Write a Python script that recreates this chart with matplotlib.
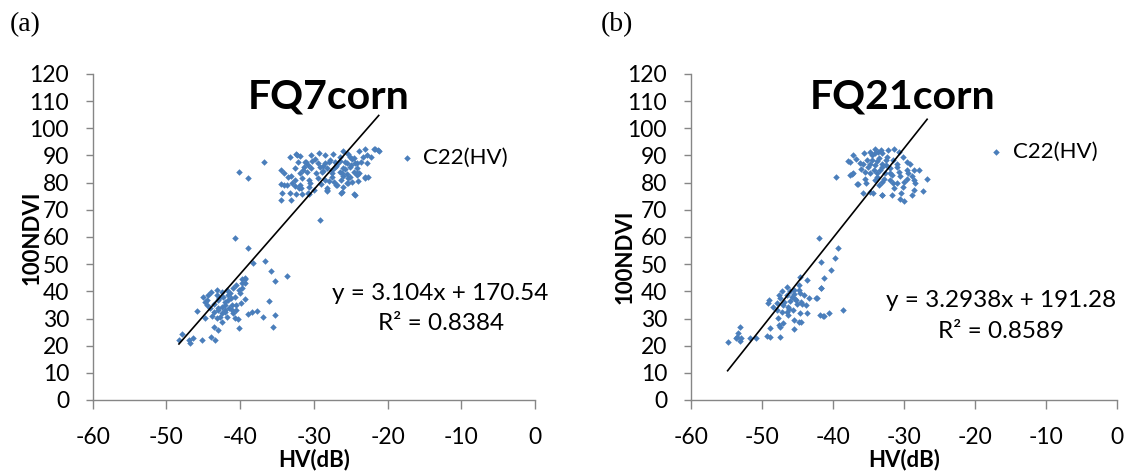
import matplotlib
matplotlib.use("Agg")
import matplotlib.pyplot as plt
import numpy as np

plt.rcParams['font.family'] = ['Lato', 'DejaVu Sans']
plt.rcParams['axes.unicode_minus'] = False

# ---------------- data ----------------
# Panel (a) FQ7corn : HV (dB) vs 100NDVI
a_hv = [
    # upper cluster
    -30.4, -29.3, -28.5, -27.4, -26.0, -25.3, -23.9, -23.1, -21.9, -21.2, -33.2, -32.4, -31.9, -22.2, -23.4, -26.5, -24.8,
    -32.2, -31.2, -30.2, -29.4, -28.0, -26.8, -25.8, -24.4, -23.6, -24.1, -25.1, -26.1, -27.1, -28.2, -29.2, -30.4, -31.4,
    -30.9, -29.7, -28.7, -27.5, -26.5, -25.5, -24.6, -24.1, -34.4, -34.1,
    -33.1, -32.6, -31.6, -30.7, -29.4, -28.5, -27.3, -26.3, -25.3, -24.8, -23.1, -23.9, -34.5, -33.6, -32.6, -31.8, -30.7,
    -30.0, -28.2, -27.0, -26.1, -34.3, -32.4, -31.6, -30.7, -28.2, -26.3, -24.5, -34.4, -33.1, -29.1,
    -32.3, -25.1, -22.8, -31.1, -28.5, -27.1, -25.5, -24.2, -31.9, -28.9, -27.6, -26.2, -25.1, -34.1, -33.0, -31.9, -30.5,
    -33.2, -30.8, -28.2, -26.2, -25.3, -24.2, -22.8, -22.6, -21.3, -21.7, -23.0, -24.4,
    -27.8, -27.0, -26.5, -25.8, -25.0, -24.5, -26.0, -27.5, -28.8, -29.8, -30.8, -31.5, -32.5, -33.5, -32.0, -29.0, -28.0,
    -26.8, -25.5, -24.0,
    # isolated points
    -36.7, -40.1, -39.0,
    # lower cluster and transition
    -40.7, -39.0, -38.2, -36.6, -35.8, -35.3, -39.4, -36.1, -35.3, -35.6, -36.9, -37.7, -38.4, -39.0, -40.2, -40.3, -40.7,
    -39.4, -39.7, -39.4, -41.1, -40.9, -41.8, -42.5, -43.2, -43.9, -44.3, -45.0, -44.8, -44.1, -45.9, -44.8, -43.6, -43.0,
    -42.5, -43.2, -42.5, -43.5, -43.0, -41.8, -47.9, -48.3, -47.0, -46.8, -46.4, -45.2, -44.0, -43.4, -33.7,
    -39.7, -40.0, -39.9, -40.5, -41.4, -40.5, -44.5, -43.0, -42.5, -42.1, -41.6, -42.1, -41.1, -42.3, -41.6, -40.7, -40.2,
    -39.8, -39.3, -40.6,
    -43.5, -42.8, -42.0, -41.3, -43.8, -42.0, -41.5, -43.2, -44.5, -42.7, -41.0, -43.0,
]
a_ndvi = [
    90.2, 91.0, 90.2, 90.4, 91.7, 90.6, 91.7, 92.4, 92.5, 91.8, 89.6, 90.6, 89.8, 89.6, 89.6, 89.6, 88.6,
    87.5, 87.7, 88.1, 87.1, 87.7, 86.9, 87.5, 87.1, 87.5, 85.3, 85.9, 85.3, 85.9, 85.3, 85.9, 85.3, 85.9,
    84.0, 83.4, 84.4, 83.4, 84.0, 83.2, 84.0, 82.8, 84.7, 83.7,
    82.5, 81.0, 81.6, 81.0, 81.6, 81.0, 80.4, 81.0, 81.6, 80.4, 82.0, 83.7, 79.4, 79.1, 78.8, 77.9, 78.5,
    77.3, 77.9, 79.1, 78.5, 76.3, 75.8, 75.7, 75.8, 77.1, 76.3, 75.8, 73.6, 73.6, 66.3,
    90.2, 89.5, 90.2, 87.7, 87.3, 87.7, 87.1, 87.1, 83.4, 84.0, 84.7, 83.4, 82.2, 79.1, 79.8, 79.1, 79.8,
    76.1, 76.1, 77.3, 76.7, 79.8, 83.4, 87.1, 82.2, 92.0, 92.3, 81.6, 75.5,
    88.5, 86.2, 88.0, 85.0, 86.5, 89.0, 82.5, 82.0, 86.0, 88.8, 86.5, 84.5, 85.5, 82.0, 78.0, 79.5, 80.5,
    79.0, 80.0, 80.5,
    87.5, 83.8, 81.6,
    59.5, 55.8, 50.3, 51.3, 47.6, 43.9, 44.8, 36.6, 31.3, 27.0, 30.4, 32.9, 32.5, 31.7, 26.4, 29.7, 30.1,
    42.9, 41.1, 37.1, 33.1, 41.1, 40.5, 39.9, 40.5, 39.9, 38.6, 38.0, 36.2, 33.7, 32.9, 30.1, 32.5, 36.8,
    31.9, 30.1, 28.8, 27.0, 25.8, 30.4, 24.3, 22.1, 22.1, 21.1, 22.7, 22.1, 23.3, 22.1, 45.6,
    44.4, 39.3, 35.6, 35.0, 39.3, 42.3, 35.0, 33.7, 34.3, 36.2, 36.8, 33.1, 35.0, 38.0, 38.6, 38.0, 40.5,
    42.9, 44.4, 33.1,
    35.5, 37.5, 35.0, 37.5, 31.0, 32.5, 34.0, 38.5, 36.8, 30.5, 32.0, 33.0,
]

# Panel (b) FQ21corn
b_hv = [
    # upper cluster
    -39.6, -37.6, -37.1, -37.6, -37.1, -36.7, -36.1, -36.6, -35.8, -35.6, -34.8, -34.1, -33.6, -33.0, -32.2, -31.3, -30.6,
    -30.1, -29.6, -29.1, -34.5, -33.5, -32.5, -35.0, -34.0, -33.0, -31.9, -30.9, -34.8, -33.7, -32.7, -31.7, -30.6, -29.6,
    -28.6, -27.8, -29.4, -34.0, -33.0, -31.9, -31.0, -30.0, -28.6, -26.7, -28.4, -30.1, -31.4, -28.6, -27.3, -28.8, -30.4,
    -31.7, -33.1, -34.3, -30.5, -30.0, -35.3,
    -34.5, -33.8, -33.0, -32.3, -34.8, -34.2, -33.3, -32.5, -31.5, -31.0, -33.8, -32.8, -35.5, -35.2, -30.5, -29.5, -28.8,
    -31.5, -33.5, -32.0, -34.0, -33.2, -35.8, -36.0, -35.5, -37.3, -36.5, -37.8, -34.7, -33.1,
    # lower cluster and transition
    -41.9, -40.2, -41.2, -41.7, -42.2, -41.8, -41.2, -40.5, -43.6, -44.6, -44.8, -46.4, -47.2, -44.1, -43.3, -45.1, -47.9,
    -48.4, -49.1, -47.2, -47.7, -45.5, -44.7, -43.6, -47.0, -47.4, -48.8, -48.9, -47.4, -45.4,
    -54.8, -53.5, -53.1, -53.4, -53.6, -52.9, -53.1, -51.6, -50.8, -49.3, -47.5, -49.0, -44.4, -44.3, -42.3, -41.3,
    -38.5, -41.7, -39.7, -39.3, -41.7,
    -45.4, -44.6, -43.7, -44.4, -45.8, -46.5, -47.4, -47.0, -46.3, -45.6, -46.5, -46.3, -44.6,
    -46.0, -45.3, -46.8, -45.0, -46.2, -47.8, -45.5, -44.8, -46.0, -47.5,
]
b_ndvi = [
    82.2, 82.8, 83.7, 87.5, 90.2, 88.6, 87.4, 79.5, 76.3, 90.8, 91.4, 92.3, 91.4, 90.8, 92.0, 92.3, 91.4,
    89.6, 87.7, 86.9, 88.3, 89.0, 88.3, 85.9, 86.5, 85.9, 85.3, 85.9, 83.4, 83.7, 83.4, 82.8, 84.0, 84.7,
    84.7, 84.7, 83.7, 81.0, 80.4, 81.0, 79.8, 80.4, 81.0, 81.3, 79.8, 78.5, 77.9, 77.3, 77.1, 75.5, 76.3,
    75.5, 75.5, 76.3, 73.9, 73.4, 79.8,
    90.0, 88.0, 87.0, 89.5, 86.8, 84.5, 84.8, 86.5, 88.5, 87.0, 82.0, 81.5, 84.0, 88.5, 82.5, 81.5, 82.5,
    80.0, 79.0, 83.5, 91.0, 92.0, 87.0, 85.0, 81.5, 83.1, 79.4, 88.0, 76.7, 75.5,
    59.5, 47.9, 44.8, 41.1, 37.4, 31.3, 30.9, 31.9, 44.2, 45.4, 42.3, 41.7, 40.2, 38.6, 37.4, 36.8, 35.6,
    34.3, 35.8, 32.5, 30.1, 29.4, 28.8, 32.1, 28.2, 26.8, 26.4, 23.3, 23.3, 26.1,
    21.2, 23.1, 27.0, 24.8, 22.7, 22.9, 21.8, 22.9, 22.7, 23.6, 27.6, 36.8, 28.6, 35.3, 37.4, 30.9,
    33.1, 50.7, 52.1, 55.8, 41.1,
    40.5, 39.3, 35.0, 36.2, 38.0, 38.6, 37.4, 35.0, 34.3, 33.1, 32.5, 31.3, 31.9,
    36.5, 37.2, 36.0, 35.5, 33.5, 33.0, 39.0, 40.5, 40.0, 38.5,
]

# linear trend lines shown on the chart
a_slope, a_intercept, a_r2 = 3.104, 170.54, 0.8384
b_slope, b_intercept, b_r2 = 3.2938, 191.28, 0.8589

titles = ["FQ7corn", "FQ21corn"]
panel_tags = ["(a)", "(b)"]
series_label = "C22(HV)"
x_ticks = [-60, -50, -40, -30, -20, -10, 0]
y_ticks = [0, 10, 20, 30, 40, 50, 60, 70, 80, 90, 100, 110, 120]

# ---------------- figure ----------------
W, H = 1135, 472
fig = plt.figure(figsize=(W / 100, H / 100), dpi=100)

BLUE = '#4a7ebb'
GRAY = '#868686'
TICK_FS = 16.5

panels = [
    dict(hv=a_hv, nd=a_ndvi, m=a_slope, c=a_intercept, r2=a_r2, title=titles[0], tag=panel_tags[0],
         rect=[92.7 / W, 72 / H, 442.3 / W, 326 / H], title_x=-28.0,
         eq_x=-12.8, eq_y=(39.3, 28.2), eq_fmt="y = {:.3f}x + {:.2f}", r2_fmt="R² = {:.4f}",
         leg=(0.695, 0.744), ylab_px=(32, 237.5), tag_px=(25, 25)),
    dict(hv=b_hv, nd=b_ndvi, m=b_slope, c=b_intercept, r2=b_r2, title=titles[1], tag=panel_tags[1],
         rect=[690.7 / W, 72 / H, 426 / W, 326 / H], title_x=-30.2,
         eq_x=-16.3, eq_y=(36.6, 25.2), eq_fmt="y = {:.4f}x + {:.2f}", r2_fmt="R² = {:.4f}",
         leg=(0.701, 0.762), ylab_px=(625, 257), tag_px=(617, 25)),
]

for p in panels:
    ax = fig.add_axes(p['rect'])
    hv = np.array(p['hv'])
    nd = np.array(p['nd'])
    ax.scatter(hv, nd, marker='D', s=11, color=BLUE, linewidths=0, label=series_label, zorder=3)
    xs = np.array([hv.min(), hv.max()])
    ax.plot(xs, p['m'] * xs + p['c'], color='black', lw=1.2, zorder=4)

    ax.set_xlim(-60, 0)
    ax.set_ylim(0, 120)
    ax.set_xticks(x_ticks)
    ax.set_yticks(y_ticks)
    for s in ['top', 'right']:
        ax.spines[s].set_visible(False)
    for s in ['left', 'bottom']:
        ax.spines[s].set_color(GRAY)
        ax.spines[s].set_linewidth(1.0)
    ax.tick_params(axis='x', direction='out', length=6.5, width=1.0, color=GRAY, pad=13, labelsize=TICK_FS)
    ax.tick_params(axis='y', direction='out', length=5, width=1.0, color=GRAY, pad=12, labelsize=TICK_FS)
    ax.set_xlabel("HV(dB)", fontsize=16, fontweight='bold')
    ax.xaxis.label.set_va('center')
    ax.xaxis.set_label_coords(0.5, -60 / 326)

    ax.text(p['title_x'], 111.7, p['title'], fontsize=29.5, fontweight='bold', ha='center', va='center')
    ax.text(p['eq_x'], p['eq_y'][0], p['eq_fmt'].format(p['m'], p['c']), fontsize=17.5, ha='center', va='center')
    ax.text(p['eq_x'], p['eq_y'][1], p['r2_fmt'].format(p['r2']), fontsize=17.5, ha='center', va='center')

    ax.legend(loc='center left', bbox_to_anchor=p['leg'], frameon=False, fontsize=16,
              handlelength=0.6, handletextpad=0.45, borderpad=0, borderaxespad=0, scatterpoints=1)

    fig.text(p['ylab_px'][0] / W, 1 - p['ylab_px'][1] / H, "100NDVI", rotation=90, fontsize=16,
             fontweight='bold', ha='center', va='center')
    fig.text(p['tag_px'][0] / W, 1 - p['tag_px'][1] / H, p['tag'], fontsize=20,
             family='Liberation Serif', ha='center', va='center')

fig.savefig("out.png", dpi=100)
